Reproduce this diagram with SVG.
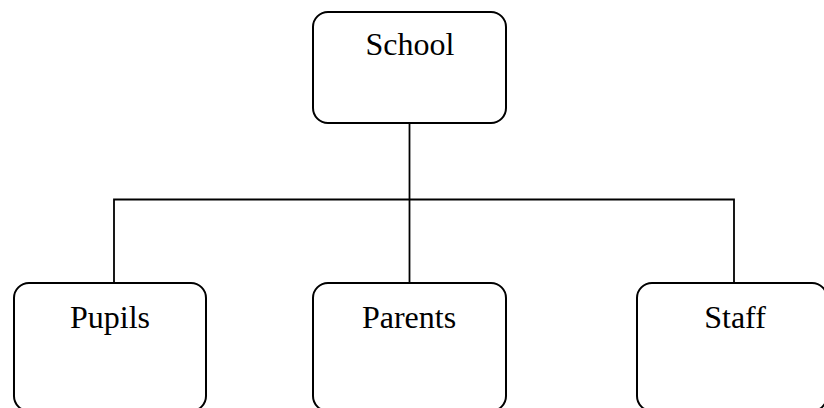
<svg xmlns="http://www.w3.org/2000/svg" width="824" height="408" viewBox="0 0 824 408">
<style>
.box{fill:#fff;stroke:#000;stroke-width:2}
.lbl{font-family:"Liberation Serif","Times New Roman",serif;font-size:32px;fill:#000;text-anchor:middle}
.conn{fill:none;stroke:#000;stroke-width:1.8}
</style>
<rect width="824" height="408" fill="#fff"/>
<g id="connectors">
<line class="conn" x1="409.5" y1="123" x2="409.5" y2="283"/>
<polyline class="conn" points="114,283 114,199.5 734,199.5 734,283"/>
</g>
<g id="school">
<rect class="box" x="313" y="12" width="193" height="111" rx="15"/>
<text class="lbl" x="410" y="55">School</text>
</g>
<g id="pupils">
<rect class="box" x="14" y="283" width="192" height="128" rx="15"/>
<text class="lbl" x="110" y="328">Pupils</text>
</g>
<g id="parents">
<rect class="box" x="313" y="283" width="193" height="128" rx="15"/>
<text class="lbl" x="409" y="328">Parents</text>
</g>
<g id="staff">
<rect class="box" x="637" y="283" width="190" height="128" rx="15"/>
<text class="lbl" x="735" y="328">Staff</text>
</g>
</svg>
